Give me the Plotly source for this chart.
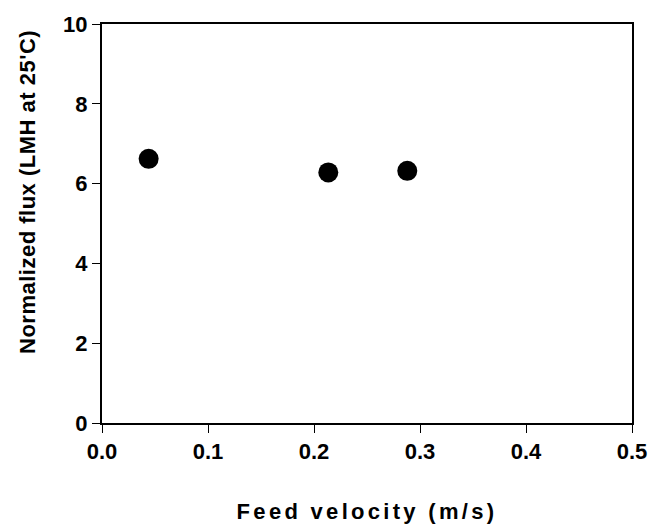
import plotly.graph_objects as go

feed_velocity = [0.044, 0.2135, 0.288]
normalized_flux = [6.62, 6.28, 6.32]
x_ticks = [0, 0.1, 0.2, 0.3, 0.4, 0.5]
x_tick_labels = ["0.0", "0.1", "0.2", "0.3", "0.4", "0.5"]
y_ticks = [0, 2, 4, 6, 8, 10]

font_family = "Liberation Sans, Arial, sans-serif"

fig = go.Figure()
fig.add_trace(go.Scatter(
    x=feed_velocity, y=normalized_flux, mode="markers",
    marker=dict(color="black", size=20, line=dict(width=0)),
    showlegend=False,
))

fig.update_layout(
    width=652, height=527,
    margin=dict(l=102, r=20, t=24, b=104),
    paper_bgcolor="white", plot_bgcolor="white",
    font=dict(family=font_family, color="black"),
)
fig.update_xaxes(
    range=[0, 0.5], tickvals=x_ticks, ticktext=x_tick_labels,
    showgrid=False, zeroline=False, showline=True, linecolor="black", linewidth=2,
    mirror=True, ticks="outside", ticklen=8, tickwidth=1, tickcolor="black",
    tickfont=dict(size=22, family=font_family, weight="bold"),
    automargin=False,
    title=dict(text="<span style='letter-spacing:3.3px'>Feed velocity (m/s)</span>",
               font=dict(size=22, family=font_family, weight="bold"), standoff=40),
)
fig.update_yaxes(
    range=[0, 10], tickvals=y_ticks,
    showgrid=False, zeroline=False, showline=True, linecolor="black", linewidth=2,
    mirror=True, ticks="outside", ticklen=8, tickwidth=1, tickcolor="black",
    tickfont=dict(size=22, family=font_family, weight="bold"),
    automargin=False,
)
fig.add_annotation(
    text="<span style='letter-spacing:0.5px'>Normalized flux (LMH at 25'C)</span>",
    xref="paper", yref="paper", x=-0.1396, y=0.579,
    xanchor="center", yanchor="middle", textangle=-90, showarrow=False,
    font=dict(size=22, family=font_family, weight="bold", color="black"),
)

fig.write_html("out.html", config={"displayModeBar": False},
               post_script="document.body.style.margin='0';")
